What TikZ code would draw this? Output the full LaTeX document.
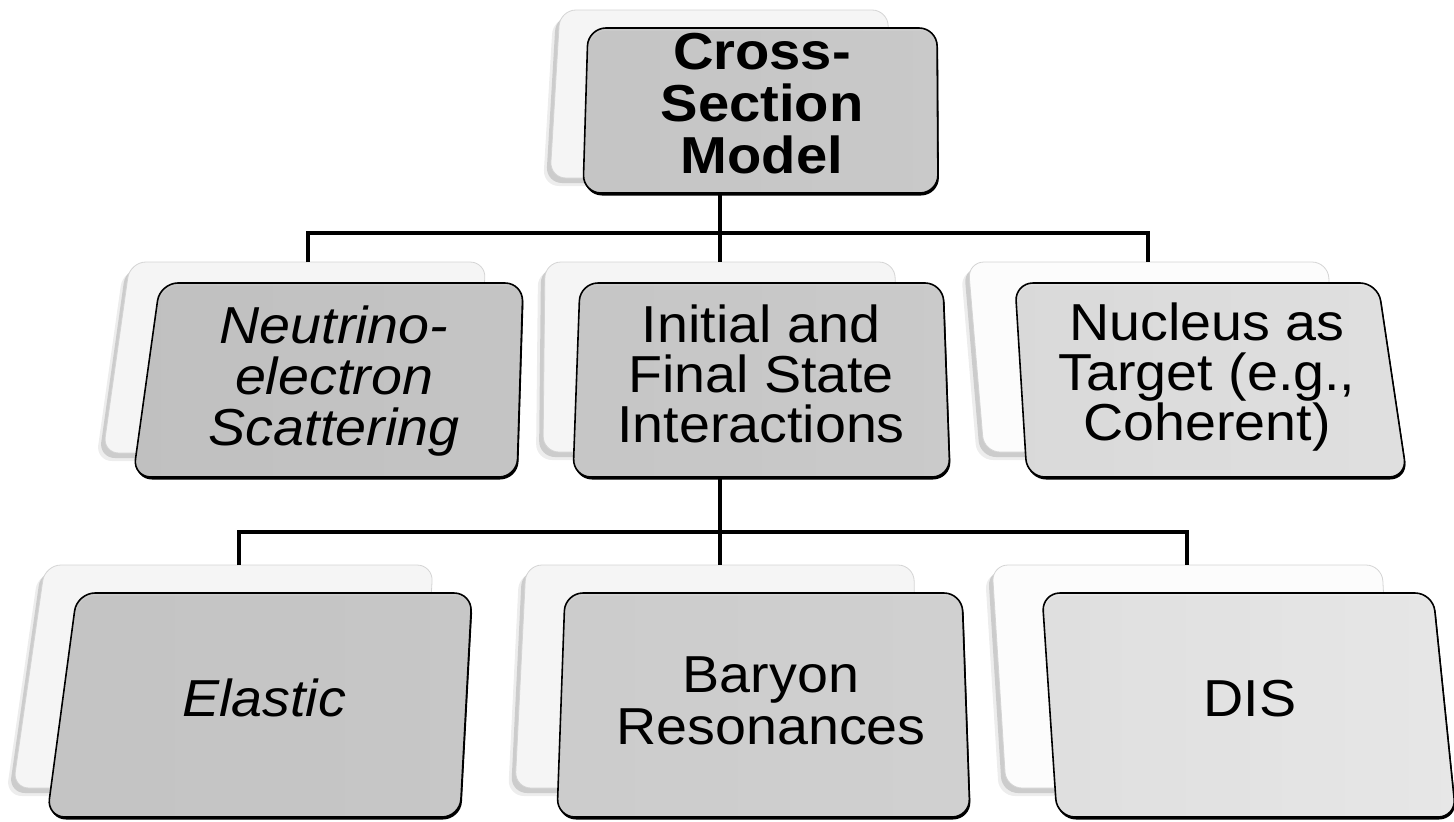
\documentclass[tikz,border=0pt]{standalone}
\usepackage{fontspec}
\setmainfont{Liberation Sans}
\usetikzlibrary{calc}

\definecolor{ghostfill}{RGB}{245,245,245}
\definecolor{ghostfillb}{RGB}{252,252,252}
\definecolor{ghostline}{RGB}{212,212,212}
\definecolor{cardA}{RGB}{203,203,203}
\definecolor{cardAr}{RGB}{210,210,210}
\definecolor{cardB}{RGB}{198,198,198}
\definecolor{cardBr}{RGB}{205,205,205}
\definecolor{cardC}{RGB}{204,204,204}
\definecolor{cardCr}{RGB}{211,211,211}
\definecolor{cardD}{RGB}{224,224,224}
\definecolor{cardDr}{RGB}{234,234,234}
\definecolor{cardE}{RGB}{202,202,202}
\definecolor{cardEr}{RGB}{207,207,207}
\definecolor{cardF}{RGB}{210,210,210}
\definecolor{cardFr}{RGB}{218,218,218}
\definecolor{cardG}{RGB}{230,230,230}
\definecolor{cardGr}{RGB}{243,243,243}
\definecolor{wireshadow}{RGB}{170,170,170}

\tikzset{
  ghost/.style={draw=ghostline, line width=0.8pt, rounded corners=16pt},
  ghostshade/.style={fill=black, rounded corners=16pt},
  frontbox/.style={draw=black, line width=1.6pt, rounded corners=18pt},
  frontshade/.style={fill=black, rounded corners=18pt},
  wire/.style={draw=black, line width=3.2pt},
  wireshade/.style={draw=wireshadow, line width=3.2pt, opacity=0.6},
  lbl/.style={align=center, inner sep=0pt, text=black, xscale=1.07,
    font=\fontsize{52}{50}\selectfont},
  toplbl/.style={align=center, inner sep=0pt, text=black, xscale=1.08,
    font=\fontsize{52}{52}\selectfont\bfseries},
}

% back card: name, TL, TR, BR, BL, fill colour
\newcommand\ghostcard[6]{%
  \fill[ghostshade, opacity=0.07, shift={(-7,8)}] (#2) -- (#3) -- (#4) -- (#5) -- cycle;
  \fill[ghostshade, opacity=0.14, shift={(-4,5)}] (#2) -- (#3) -- (#4) -- (#5) -- cycle;
  \draw[ghost, fill=#6] (#2) -- (#3) -- (#4) -- (#5) -- cycle;
  \coordinate (#1-n) at ($(#2)!0.5!(#3)$);
  \coordinate (#1-s) at ($(#5)!0.5!(#4)$);
}

% front card: TL, TR, BR, BL, left colour, right colour
\newcommand\frontcard[6]{%
  \fill[frontshade, shift={(1,2.5)}] (#1) -- (#2) -- (#3) -- (#4) -- cycle;
  \fill[rounded corners=18pt, fill=#5, fill opacity=0.93] (#1) -- (#2) -- (#3) -- (#4) -- cycle;
  \shade[rounded corners=18pt, left color=#5, right color=#6, opacity=0.6] (#1) -- (#2) -- (#3) -- (#4) -- cycle;
  \draw[frontbox] (#1) -- (#2) -- (#3) -- (#4) -- cycle;
}

\begin{document}
\begin{tikzpicture}[x=1pt, y=-1pt]
  \useasboundingbox (0,0) rectangle (1454,822);
  \clip (0,0) rectangle (1454,822);

  % back cards
  \ghostcard{csm}{560,10}{888,10}{890,178}{550,178}{ghostfill}
  \ghostcard{neu}{130,262}{486,262}{472,453}{103,453}{ghostfill}
  \ghostcard{ini}{545,262}{895,262}{897,452}{543,452}{ghostfill}
  \ghostcard{nuc}{968,262}{1328,262}{1338,452}{984,452}{ghostfillb}
  \ghostcard{ela}{45,565}{433,565}{420,788}{13,788}{ghostfill}
  \ghostcard{bar}{526,565}{914,565}{916,788}{515,788}{ghostfill}
  \ghostcard{dis}{992,565}{1382,565}{1394,788}{1006,788}{ghostfillb}

  % connector buses
  \coordinate (bus1) at (720,233);
  \coordinate (bus2) at (720,532);
  \begin{scope}[shift={(1.5,2)}]
    \draw[wireshade] (neu-n) -- (neu-n |- bus1) -- (nuc-n |- bus1) -- (nuc-n);
    \draw[wireshade] (ela-n) -- (ela-n |- bus2) -- (dis-n |- bus2) -- (dis-n);
  \end{scope}
  \draw[wire] (csm-s) -- (csm-s |- bus1);
  \draw[wire] (neu-n) -- (neu-n |- bus1) -- (nuc-n |- bus1) -- (nuc-n);
  \draw[wire] (ini-n |- bus1) -- (ini-n);
  \draw[wire] (ini-s) -- (ini-s |- bus2);
  \draw[wire] (ela-n) -- (ela-n |- bus2) -- (dis-n |- bus2) -- (dis-n);
  \draw[wire] (bar-n |- bus2) -- (bar-n);

  % front cards
  \frontcard{588,28}{937,28}{938,193}{583,193}{cardA}{cardAr}
  \frontcard{160,283}{523,283}{517,477}{133,477}{cardB}{cardBr}
  \frontcard{580,283}{943,283}{950,477}{573,477}{cardC}{cardCr}
  \frontcard{1015,283}{1378,283}{1407,477}{1027,477}{cardD}{cardDr}
  \frontcard{77,593}{472,593}{460,817}{47,817}{cardE}{cardEr}
  \frontcard{565,593}{962,593}{970,817}{557,817}{cardF}{cardFr}
  \frontcard{1042,593}{1433,593}{1456,817}{1057,817}{cardG}{cardGr}

  % labels
  \node[toplbl] (tcsm) at (762,104) {Cross-\\Section\\Model};
  \node[lbl, font=\fontsize{52}{51}\selectfont\itshape] (tneu) at (334,381) {Neutrino-\\electron\\Scattering};
  \node[lbl] (tini) at (761,374) {Initial and\\Final State\\Interactions};
  \node[lbl] (tnuc) at (1207,377) {Nucleus as\\Target (e.g.,\\Coherent)};
  \node[lbl, font=\fontsize{52}{52}\selectfont\itshape] (tela) at (264,698) {Elastic};
  \node[lbl, font=\fontsize{52}{52}\selectfont] (tbar) at (771,701) {Baryon\\Resonances};
  \node[lbl] (tdis) at (1250,699) {DIS};
\end{tikzpicture}
\end{document}
